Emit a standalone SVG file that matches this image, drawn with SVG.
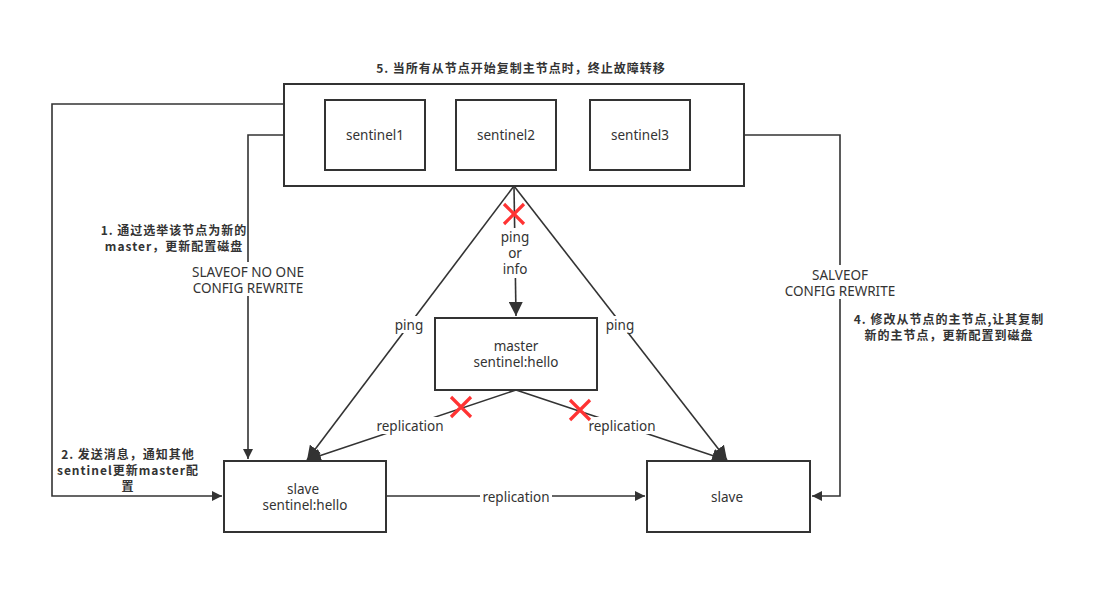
<svg xmlns="http://www.w3.org/2000/svg" width="1109" height="593" viewBox="0 0 1109 593">
<style>
.box{fill:#fff;stroke:#333;stroke-width:2}
.ln{fill:none;stroke:#333;stroke-width:1.6}
.t{font-family:"Noto Sans","Noto Sans CJK SC",sans-serif;font-size:13.5px;fill:#333;text-anchor:middle}
.b{font-family:"Noto Sans CJK SC","Noto Sans",sans-serif;font-size:12px;font-weight:bold;fill:#333;text-anchor:middle;letter-spacing:1px}
.x{stroke:#f33;stroke-width:3.2;fill:none}
.bg{fill:#fff}
</style>
<defs>
<marker id="arr" viewBox="0 0 10 10" refX="10" refY="5" markerWidth="10" markerHeight="10" markerUnits="userSpaceOnUse" orient="auto">
<path d="M0,0 L10,5 L0,10 Z" fill="#333"/>
</marker>
<marker id="arrL" viewBox="0 0 10 10" refX="10" refY="5" markerWidth="14" markerHeight="14" markerUnits="userSpaceOnUse" orient="auto">
<path d="M0,0 L10,5 L0,10 Z" fill="#333"/>
</marker>
</defs>
<g id="connectors">
<polyline class="ln" points="284,104 52,104 52,496 222,496" marker-end="url(#arr)"/>
<polyline class="ln" points="284,135 248,135 248,459" marker-end="url(#arr)"/>
<polyline class="ln" points="744,135 840,135 840,496 812,496" marker-end="url(#arr)"/>
<line class="ln" x1="514" y1="186" x2="516" y2="316" marker-end="url(#arrL)"/>
<line class="ln" x1="514" y1="186" x2="307" y2="460" marker-end="url(#arrL)"/>
<line class="ln" x1="514" y1="186" x2="727" y2="460" marker-end="url(#arrL)"/>
<line class="ln" x1="516" y1="390" x2="307" y2="460" marker-end="url(#arrL)"/>
<line class="ln" x1="516" y1="390" x2="726" y2="460" marker-end="url(#arrL)"/>
<line class="ln" x1="386" y1="496" x2="645" y2="496" marker-end="url(#arr)"/>
</g>
<g id="labels">
<rect class="bg" x="190" y="262" width="116" height="34"/>
<text class="t" x="248" y="277">SLAVEOF NO ONE</text>
<text class="t" x="248" y="293">CONFIG REWRITE</text>
<rect class="bg" x="782" y="265" width="116" height="34"/>
<text class="t" x="840" y="280">SALVEOF</text>
<text class="t" x="840" y="296">CONFIG REWRITE</text>
<rect class="bg" x="498" y="228" width="34" height="50"/>
<text class="t" x="515" y="242">ping</text>
<text class="t" x="515" y="258">or</text>
<text class="t" x="515" y="274">info</text>
<rect class="bg" x="393" y="316" width="32" height="17"/>
<text class="t" x="409" y="330">ping</text>
<rect class="bg" x="604" y="316" width="32" height="17"/>
<text class="t" x="620" y="330">ping</text>
<rect class="bg" x="374" y="417" width="72" height="17"/>
<text class="t" x="410" y="431">replication</text>
<rect class="bg" x="586" y="417" width="72" height="17"/>
<text class="t" x="622" y="431">replication</text>
<rect class="bg" x="480" y="489" width="72" height="16"/>
<text class="t" x="516" y="502">replication</text>
<text class="b" x="521" y="73">5. 当所有从节点开始复制主节点时，终止故障转移</text>
<text class="b" x="174" y="235">1. 通过选举该节点为新的</text>
<text class="b" x="174" y="251">master，更新配置磁盘</text>
<text class="b" x="128" y="459">2. 发送消息，通知其他</text>
<text class="b" x="128" y="475">sentinel更新master配</text>
<text class="b" x="128" y="491">置</text>
<text class="b" x="949" y="324">4. 修改从节点的主节点,让其复制</text>
<text class="b" x="949" y="340">新的主节点，更新配置到磁盘</text>
</g>
<g id="sentinels">
<rect class="box" x="284" y="84" width="460" height="102"/>
</g>
<g id="sentinel1"><rect class="box" x="325" y="100" width="100" height="70"/><text class="t" x="375" y="140">sentinel1</text></g>
<g id="sentinel2"><rect class="box" x="456" y="100" width="100" height="70"/><text class="t" x="506" y="140">sentinel2</text></g>
<g id="sentinel3"><rect class="box" x="590" y="100" width="100" height="70"/><text class="t" x="640" y="140">sentinel3</text></g>
<g id="master"><rect class="box" x="435" y="318" width="162" height="72"/><text class="t" x="516" y="351">master</text><text class="t" x="516" y="367">sentinel:hello</text></g>
<g id="slave1"><rect class="box" x="224" y="461" width="162" height="71"/><text class="t" x="303" y="494">slave</text><text class="t" x="305" y="510">sentinel:hello</text></g>
<g id="slave2"><rect class="box" x="647" y="461" width="163" height="71"/><text class="t" x="727" y="502">slave</text></g>
<g id="crosses">
<path class="x" d="M504,204 L524,224 M524,204 L504,224"/>
<path class="x" d="M451,397 L471,417 M471,397 L451,417"/>
<path class="x" d="M570,400 L590,420 M590,400 L570,420"/>
</g>
</svg>
